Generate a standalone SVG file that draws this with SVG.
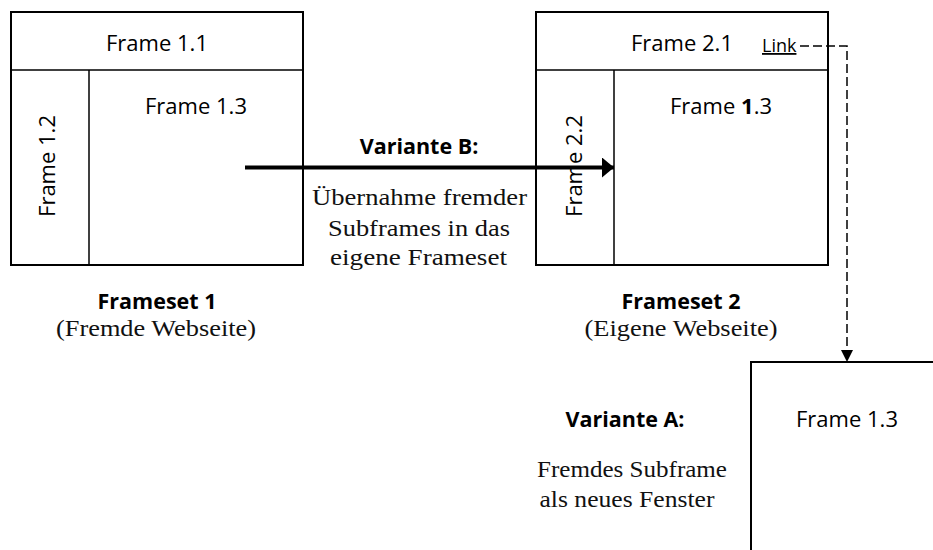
<svg xmlns="http://www.w3.org/2000/svg" width="933" height="550" viewBox="0 0 933 550">
  <style>
    .box { fill: none; stroke: #000; stroke-width: 2; }
    .div { fill: none; stroke: #000; stroke-width: 1.5; }
    .sans { font-family: "Open Sans", "Liberation Sans", sans-serif; font-size: 22px; fill: #000; }
    .bold { font-family: "Open Sans", "Liberation Sans", sans-serif; font-size: 21.5px; font-weight: bold; fill: #000; }
    .serif { font-family: "Liberation Serif", "Times New Roman", serif; font-size: 23px; fill: #111; }
    .mid { text-anchor: middle; }
  </style>
  <defs>
    <marker id="headSolid" viewBox="0 0 12 20" refX="12" refY="10" markerWidth="12" markerHeight="20" markerUnits="userSpaceOnUse" orient="auto">
      <path d="M0,0 L12,10 L0,20 Z" fill="#000"/>
    </marker>
    <marker id="headDash" viewBox="0 0 12 12" refX="6" refY="12" markerWidth="12" markerHeight="12" markerUnits="userSpaceOnUse" orient="0">
      <path d="M0,0 L12,0 L6,12 Z" fill="#000"/>
    </marker>
  </defs>
  <rect width="933" height="550" fill="#fff"/>

  <!-- Frameset 1 (foreign page) -->
  <g id="frameset1">
    <rect class="box" x="11" y="12" width="292" height="253"/>
    <line class="div" x1="11" y1="70" x2="303" y2="70"/>
    <line class="div" x1="89" y1="70" x2="89" y2="265"/>
    <text class="sans mid" x="157" y="51">Frame 1.1</text>
    <text class="sans mid" x="196" y="114">Frame 1.3</text>
    <text class="sans mid" transform="translate(55,166) rotate(-90)">Frame 1.2</text>
    <text class="bold mid" x="157" y="309">Frameset 1</text>
    <text class="serif mid" x="156" y="336" textLength="200" lengthAdjust="spacingAndGlyphs">(Fremde Webseite)</text>
  </g>

  <!-- Frameset 2 (own page) -->
  <g id="frameset2">
    <rect class="box" x="536" y="12" width="292" height="253"/>
    <line class="div" x1="536" y1="70" x2="828" y2="70"/>
    <line class="div" x1="614" y1="70" x2="614" y2="265"/>
    <text class="sans mid" x="682" y="51">Frame 2.1</text>
    <text class="sans" x="762" y="52" style="font-size:18px" text-decoration="underline">Link</text>
    <text class="sans mid" x="721" y="114">Frame <tspan font-weight="bold">1</tspan>.3</text>
    <text class="sans mid" transform="translate(582,166) rotate(-90)">Frame 2.2</text>
    <text class="bold mid" x="681" y="309">Frameset 2</text>
    <text class="serif mid" x="681" y="336" textLength="193" lengthAdjust="spacingAndGlyphs">(Eigene Webseite)</text>
  </g>

  <!-- Separate window showing the sub-frame -->
  <g id="window">
    <rect class="box" x="751" y="362" width="300" height="300"/>
    <text class="sans mid" x="847" y="427">Frame 1.3</text>
  </g>

  <!-- Variant labels -->
  <g id="variantB">
    <text class="bold mid" x="419" y="154">Variante B:</text>
    <text class="serif mid" x="419.5" y="205" textLength="215" lengthAdjust="spacingAndGlyphs">Übernahme fremder</text>
    <text class="serif mid" x="419" y="236" textLength="182" lengthAdjust="spacingAndGlyphs">Subframes in das</text>
    <text class="serif mid" x="418.5" y="265" textLength="177" lengthAdjust="spacingAndGlyphs">eigene Frameset</text>
  </g>
  <g id="variantA">
    <text class="bold mid" x="625" y="427">Variante A:</text>
    <text class="serif mid" x="632" y="477" textLength="190" lengthAdjust="spacingAndGlyphs">Fremdes Subframe</text>
    <text class="serif mid" x="627" y="507" textLength="175" lengthAdjust="spacingAndGlyphs">als neues Fenster</text>
  </g>

  <!-- Connectors -->
  <g id="connectors">
    <line x1="245" y1="167.5" x2="614" y2="167.5" stroke="#000" stroke-width="4" marker-end="url(#headSolid)"/>
    <path d="M800,46 H847 V362" fill="none" stroke="#000" stroke-width="1.5" stroke-dasharray="9 4" marker-end="url(#headDash)"/>
  </g>
</svg>
